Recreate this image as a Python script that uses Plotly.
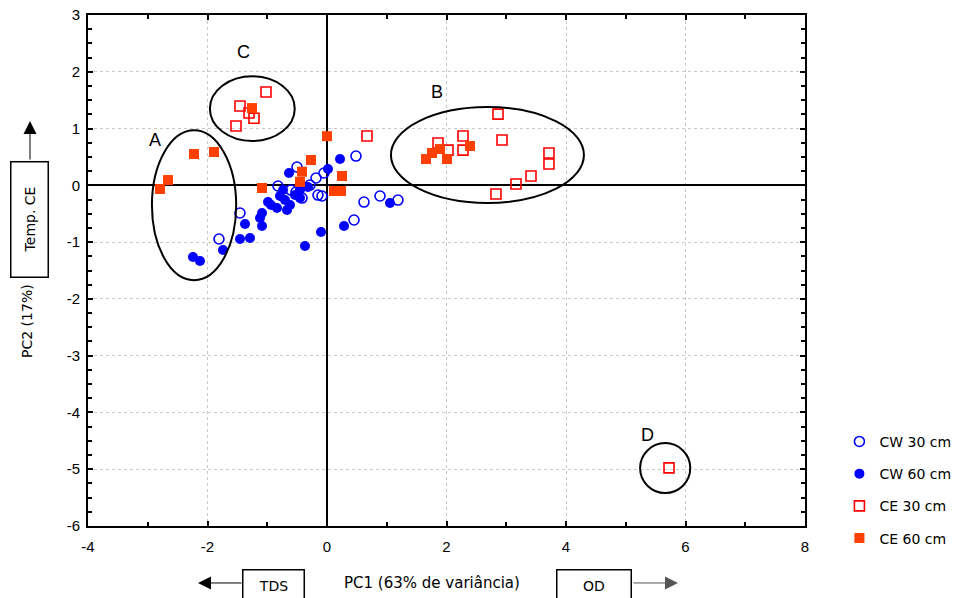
import plotly.graph_objects as go

# ---------------- data ----------------
cw30_x = [0.485, 0.619, 0.887, 1.188, 0.452, -0.084, -0.050, -0.184, -0.502, -0.418,
          -0.820, -0.151, -1.456, -1.808, -0.285, -0.603, -0.519]
cw30_y = [0.516, -0.294, -0.188, -0.259, -0.611, -0.188, 0.217, 0.129, 0.322, -0.224,
          -0.012, -0.171, -0.487, -0.945, 0.005, -0.083, -0.118]

cw60_x = [0.218, 0.017, 1.054, 0.285, -0.100, -0.368, -0.318, -0.452, -0.636, -0.987,
          -1.088, -1.121, -1.088, -1.372, -1.456, -1.289, -1.741, -2.243, -2.126,
          -0.787, -0.703, -0.619, -0.837, -0.536, -0.937, -0.736, -0.669, -0.452]
cw60_y = [0.463, 0.287, -0.312, -0.717, -0.822, -1.068, -0.030, -0.083, 0.217, -0.294,
          -0.487, -0.575, -0.716, -0.681, -0.945, -0.927, -1.139, -1.262, -1.332,
          -0.188, -0.259, -0.347, -0.400, -0.171, -0.347, -0.083, -0.435, -0.224]

ce30_x = [-1.456, -1.021, -1.523, -1.222, -1.305, 2.862, 2.929, 2.276, 2.276, 1.858,
          2.025, 3.715, 3.715, 3.414, 3.163, 2.828, 0.669, 5.724]
ce30_y = [1.396, 1.644, 1.044, 1.182, 1.273, 1.254, 0.798, 0.868, 0.620, 0.745,
          0.620, 0.569, 0.375, 0.164, 0.023, -0.153, 0.868, -4.977]

ce60_x = [-2.226, -1.891, -2.661, -2.795, -1.088, -0.418, -0.452, -0.268, 0.000, 0.251,
          0.117, 0.234, -1.255, 1.657, 1.757, 1.891, 2.008, 2.393]
ce60_y = [0.551, 0.587, 0.093, -0.065, -0.047, 0.240, 0.060, 0.446, 0.866, 0.164,
          -0.100, -0.100, 1.361, 0.463, 0.569, 0.639, 0.463, 0.692]

series_names = ["CW 30 cm", "CW 60 cm", "CE 30 cm", "CE 60 cm"]

x_tick_vals = [-4, -2, 0, 2, 4, 6, 8]
x_tick_text = ["-4", "-2", "0", "2", "4", "6", "8"]
y_tick_vals = [-6, -5, -4, -3, -2, -1, 0, 1, 2, 3]
y_tick_text = ["-6", "-5", "-4", "-3", "-2", "-1", "0", "1", "2", "3"]

group_labels = ["A", "B", "C", "D"]
group_label_x = [-2.88, 1.84, -1.39, 5.37]
group_label_y = [0.80, 1.64, 2.35, -4.39]
# ellipses: x0, x1, y0, y1
ell_x0 = [-2.93, 1.07, -1.96, 5.24]
ell_x1 = [-1.52, 4.30, -0.54, 6.08]
ell_y0 = [-1.67, -0.31, 0.78, -5.42]
ell_y1 = [0.97, 1.38, 1.92, -4.54]

# ---------------- figure ----------------
FONT = "Liberation Sans, Arial, sans-serif"
WFONT = "DejaVu Sans, Verdana, sans-serif"
fig = go.Figure()

fig.add_trace(go.Scatter(x=cw30_x, y=cw30_y, mode="markers", name=series_names[0],
                         legendgroup="g1",
                         marker=dict(symbol="circle-open", size=10, color="#0000FF",
                                     line=dict(width=1.6, color="#0000FF"))))
fig.add_trace(go.Scatter(x=cw60_x, y=cw60_y, mode="markers", name=series_names[1],
                         legendgroup="g2",
                         marker=dict(symbol="circle", size=10, color="#0000FF")))
fig.add_trace(go.Scatter(x=ce30_x, y=ce30_y, mode="markers", name=series_names[2],
                         legendgroup="g3",
                         marker=dict(symbol="square-open", size=10, color="#FF0000",
                                     line=dict(width=1.6, color="#FF0000"))))
fig.add_trace(go.Scatter(x=ce60_x, y=ce60_y, mode="markers", name=series_names[3],
                         legendgroup="g4",
                         marker=dict(symbol="square", size=10, color="#FF4000")))

for i in range(len(group_labels)):
    fig.add_shape(type="circle", xref="x", yref="y",
                  x0=ell_x0[i], x1=ell_x1[i], y0=ell_y0[i], y1=ell_y1[i],
                  line=dict(color="black", width=2))
    fig.add_annotation(x=group_label_x[i], y=group_label_y[i], text=group_labels[i],
                       showarrow=False, font=dict(family=FONT, size=18, color="black"))

axis_common = dict(showline=True, linecolor="black", linewidth=2, mirror="allticks",
                   ticks="inside", ticklen=5, tickcolor="black", tickwidth=1.5,
                   showgrid=True, gridcolor="#c8c8c8", griddash="dot", gridwidth=1.2,
                   zeroline=True, zerolinecolor="black", zerolinewidth=1.6,
                   automargin=False, ticklabeloverflow="allow",
                   tickfont=dict(family=FONT, size=15, color="black"))

fig.update_xaxes(range=[-4, 8], tickmode="array", tickvals=x_tick_vals, ticktext=x_tick_text,
                 ticklabelstandoff=6,
                 minor=dict(dtick=1, ticks="inside", ticklen=4, tickcolor="black", showgrid=False),
                 **axis_common)
fig.update_yaxes(range=[-6, 3], tickmode="array", tickvals=y_tick_vals, ticktext=y_tick_text,
                 ticklabelstandoff=3,
                 minor=dict(dtick=0.25, tick0=0, ticks="inside", ticklen=4, tickcolor="black",
                            showgrid=False),
                 **axis_common)

txt_font = dict(family=WFONT, size=14, color="black")
# axis titles & boxes
fig.add_annotation(xref="paper", yref="paper", x=0.4798, y=-0.1115, text="PC1 (63% de variância)",
                   xanchor="center", yanchor="middle", showarrow=False,
                   font=dict(family=WFONT, size=15, color="black"))
fig.add_annotation(xref="paper", yref="paper", x=0.2594, y=-0.1155, text="TDS",
                   xanchor="center", yanchor="middle",
                   showarrow=False, width=58, height=28, bordercolor="black", borderwidth=1.5,
                   font=txt_font)
fig.add_annotation(xref="paper", yref="paper", x=0.7057, y=-0.1155, text="OD",
                   xanchor="center", yanchor="middle",
                   showarrow=False, width=71, height=28, bordercolor="black", borderwidth=1.5,
                   font=txt_font)
fig.add_annotation(xref="paper", yref="paper", x=0.1534, y=-0.1115, text="",
                   showarrow=True, ax=45, ay=0, arrowhead=2, arrowsize=2.6, arrowwidth=1,
                   arrowcolor="black")
fig.add_annotation(xref="paper", yref="paper", x=0.8229, y=-0.1115, text="",
                   showarrow=True, ax=-46, ay=0, arrowhead=2, arrowsize=2.6, arrowwidth=1,
                   arrowcolor="#555555")
fig.add_annotation(xref="paper", yref="paper", x=-0.0809, y=0.6008, text="Temp. CE",
                   xanchor="center", yanchor="middle",
                   showarrow=False, textangle=-90, width=112, height=34,
                   bordercolor="black", borderwidth=1.5, font=txt_font)
fig.add_annotation(xref="paper", yref="paper", x=-0.0809, y=0.7926, text="",
                   showarrow=True, ax=0, ay=40, arrowhead=2, arrowsize=2.6, arrowwidth=1,
                   arrowcolor="black")
fig.add_annotation(xref="paper", yref="paper", x=-0.0851, y=0.4012, text="PC2 (17%)",
                   xanchor="center", yanchor="middle",
                   showarrow=False, textangle=-90, font=txt_font)

fig.update_layout(
    width=973, height=598,
    margin=dict(l=88, r=168, t=15, b=72, autoexpand=False),
    paper_bgcolor="white", plot_bgcolor="white",
    showlegend=True,
    legend=dict(x=1.048, y=0.196, xanchor="left", yanchor="top",
                font=dict(family=WFONT, size=14, color="black"),
                tracegroupgap=11, traceorder="grouped", itemwidth=30,
                bgcolor="rgba(0,0,0,0)"),
)

# remove the default 8px page margin so the figure fills the window exactly
fig.write_html("out.html",
               config={"displayModeBar": False},
               post_script="document.body.style.margin='0';document.body.style.overflow='hidden';")
